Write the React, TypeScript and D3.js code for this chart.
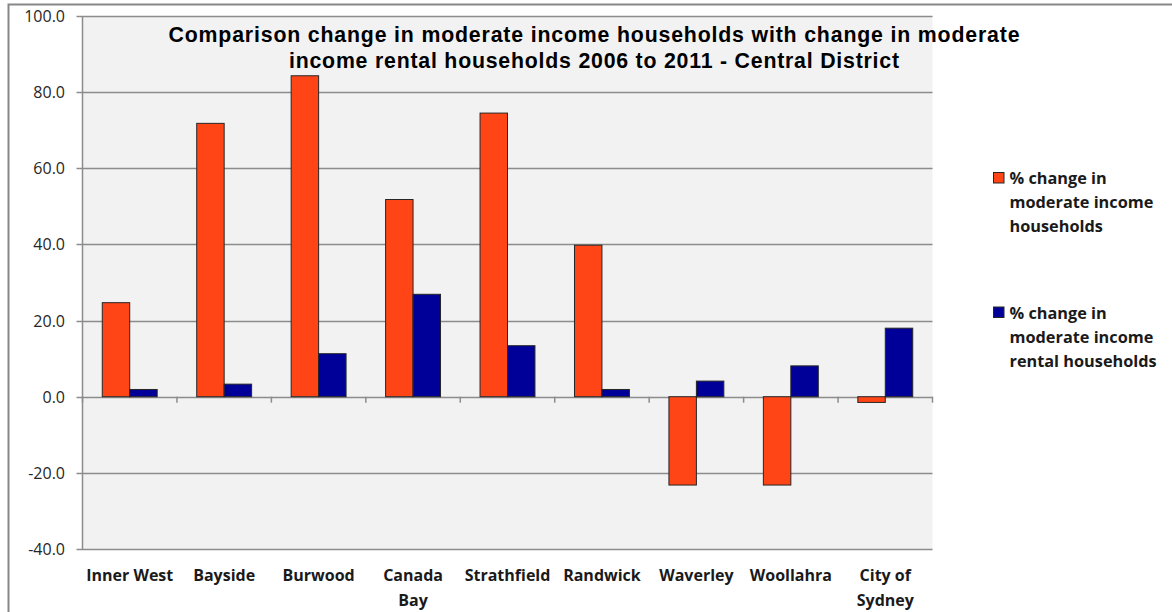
import React from "react";
import * as d3 from "d3";

const categories = [
  ["Inner West"],
  ["Bayside"],
  ["Burwood"],
  ["Canada", "Bay"],
  ["Strathfield"],
  ["Randwick"],
  ["Waverley"],
  ["Woollahra"],
  ["City of", "Sydney"],
];
const incomeChange = [24.7, 71.8, 84.3, 51.8, 74.5, 39.8, -23.2, -23.2, -1.5];
const rentalChange = [1.9, 3.3, 11.3, 26.9, 13.4, 1.9, 4.1, 8.1, 18.0];
const yTicks = [100, 80, 60, 40, 20, 0, -20, -40];
const seriesNames = [
  ["% change in", "moderate income", "households"],
  ["% change in", "moderate income", "rental households"],
];
const titleLines = [
  "Comparison change in moderate income households with change in moderate",
  "income rental households 2006 to 2011 - Central District",
];
const titleWidths = [851, 610];

const COLORS = ["#ff4515", "#000099"];
const W = 1172;
const H = 612;
const plot = { left: 82.5, right: 932.5, top: 16, bottom: 549 };
const LABEL_FONT = "'Open Sans', Lato, sans-serif";

export default function App() {
  const x = d3
    .scaleBand<number>()
    .domain(d3.range(categories.length))
    .range([plot.left, plot.right]);
  const inner = d3
    .scaleBand<number>()
    .domain([0, 1])
    .range([0, x.bandwidth()])
    .paddingOuter(0.72)
    .paddingInner(0);
  const y = d3.scaleLinear().domain([-40, 100]).range([plot.bottom, plot.top]);
  const series = [incomeChange, rentalChange];

  return (
    <svg
      width={W}
      height={H}
      style={{ position: "absolute", left: 0, top: 0, background: "#fff" }}
    >
      <rect x={8.5} y={4.5} width={W + 20} height={H + 20} fill="#fff" stroke="#878787" strokeWidth={2} />
      <rect
        x={plot.left}
        y={plot.top}
        width={plot.right - plot.left}
        height={plot.bottom - plot.top}
        fill="#f2f2f2"
      />
      {yTicks.map((t) => (
        <g key={t}>
          <line
            x1={plot.left - 6}
            x2={plot.right}
            y1={Math.round(y(t)) + 0.5}
            y2={Math.round(y(t)) + 0.5}
            stroke="#8c8c8c"
            strokeWidth={1.5}
          />
          <text
            x={65}
            y={y(t)}
            textAnchor="end"
            dominantBaseline="central"
            fontFamily={LABEL_FONT}
            fontSize={16}
            fill="#262626"
          >
            {t.toFixed(1)}
          </text>
        </g>
      ))}
      <line x1={plot.left} x2={plot.left} y1={plot.top} y2={plot.bottom} stroke="#8c8c8c" strokeWidth={1.5} />
      {d3.range(categories.length + 1).map((i) => {
        const xx = plot.left + i * x.step();
        return (
          <line key={i} x1={xx} x2={xx} y1={y(0)} y2={y(0) + 6} stroke="#8c8c8c" strokeWidth={1.5} />
        );
      })}
      {series.map((vals, s) =>
        vals.map((v, i) => {
          const bx = (x(i) as number) + (inner(s) as number);
          const y0 = y(Math.max(0, v));
          const y1 = y(Math.min(0, v));
          return (
            <rect
              key={`${s}-${i}`}
              x={bx}
              y={y0}
              width={inner.bandwidth()}
              height={y1 - y0}
              fill={COLORS[s]}
              stroke="#262626"
              strokeWidth={1}
            />
          );
        })
      )}
      {categories.map((lines, i) => (
        <text
          key={i}
          x={(x(i) as number) + x.bandwidth() / 2}
          y={581}
          textAnchor="middle"
          fontFamily={LABEL_FONT}
          fontWeight="bold"
          fontSize={16}
          fill="#1a1a1a"
        >
          {lines.map((l, j) => (
            <tspan key={j} x={(x(i) as number) + x.bandwidth() / 2} dy={j === 0 ? 0 : 25}>
              {l}
            </tspan>
          ))}
        </text>
      ))}
      {titleLines.map((l, i) => (
        <text
          key={i}
          x={594 - titleWidths[i] / 2}
          y={42 + i * 26}
          textLength={titleWidths[i]}
          lengthAdjust="spacing"
          fontFamily="'Liberation Sans', Arial, sans-serif"
          fontWeight="bold"
          fontSize={21.3}
          fill="#000"
        >
          {l}
        </text>
      ))}
      {seriesNames.map((lines, s) => (
        <g key={s} transform={`translate(0, ${s * 134.5})`}>
          <rect x={993.5} y={172.5} width={10.5} height={10.5} fill={COLORS[s]} stroke="#262626" strokeWidth={1} />
          <text fontFamily={LABEL_FONT} fontWeight="bold" fontSize={16.3} fill="#1a1a1a">
            {lines.map((l, j) => (
              <tspan key={j} x={1009.5} y={184 + j * 24}>
                {l}
              </tspan>
            ))}
          </text>
        </g>
      ))}
    </svg>
  );
}
